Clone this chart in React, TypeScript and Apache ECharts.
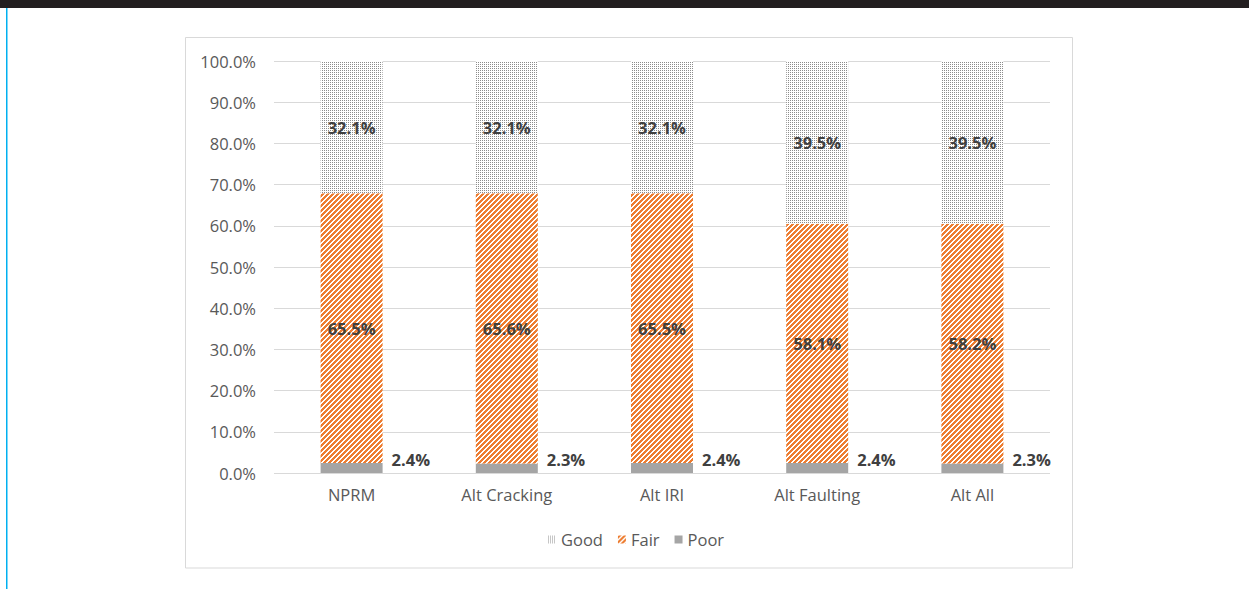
import React, { useEffect, useRef } from "react";
import * as echarts from "echarts";

const categories = ["NPRM", "Alt Cracking", "Alt IRI", "Alt Faulting", "Alt All"];
const poorValues = [2.4, 2.3, 2.4, 2.4, 2.3];
const fairValues = [65.5, 65.6, 65.5, 58.1, 58.2];
const goodValues = [32.1, 32.1, 32.1, 39.5, 39.5];
const legendNames = ["Good", "Fair", "Poor"];

const FONT = "'Open Sans', 'Noto Sans', sans-serif";

function makeGoodPattern(): string {
  const c = document.createElement("canvas");
  c.width = 2;
  c.height = 2;
  const ctx = c.getContext("2d")!;
  ctx.fillStyle = "#ffffff";
  ctx.fillRect(0, 0, 2, 2);
  ctx.fillStyle = "#8c8c8c";
  ctx.fillRect(0, 0, 1, 1);
  return c.toDataURL();
}

function makeFairPattern(): string {
  const n = 5;
  const c = document.createElement("canvas");
  c.width = n;
  c.height = n;
  const ctx = c.getContext("2d")!;
  ctx.fillStyle = "#ffffff";
  ctx.fillRect(0, 0, n, n);
  ctx.fillStyle = "#ed7d31";
  for (let y = 0; y < n; y++) {
    for (let x = 0; x < n; x++) {
      if ((x + y) % n < 3) ctx.fillRect(x, y, 1, 1);
    }
  }
  return c.toDataURL();
}

export default function App() {
  const ref = useRef<HTMLDivElement>(null);
  useEffect(() => {
    if (!ref.current) return;
    const chart = echarts.init(ref.current, undefined, { renderer: "svg" });
    const goodPat = { image: makeGoodPattern(), repeat: "repeat" } as any;
    const fairPat = { image: makeFairPattern(), repeat: "repeat" } as any;
    const insideLabel = {
      show: true,
      position: "inside",
      fontFamily: FONT,
      fontSize: 16.5,
      fontWeight: "bold",
      color: "#404040",
      formatter: (p: any) => p.value.toFixed(1) + "%",
    };
    chart.setOption({
      animation: false,
      backgroundColor: "#ffffff",
      graphic: [
        { type: "rect", z: -10, shape: { x: 0, y: 0, width: 1249, height: 8 }, style: { fill: "#231f20" } },
        { type: "rect", z: -10, shape: { x: 6, y: 8, width: 1.5, height: 581 }, style: { fill: "#00b0f0" } },
        {
          type: "rect",
          z: -10,
          shape: { x: 185.5, y: 37.5, width: 887, height: 530.5 },
          style: { fill: "#ffffff", stroke: "#d9d9d9", lineWidth: 1 },
        },
      ],
      legend: {
        data: legendNames,
        left: 543,
        top: 526,
        itemWidth: 8,
        itemHeight: 8,
        itemGap: 15,
        icon: "rect",
        textStyle: { fontFamily: FONT, fontSize: 16.5, color: "#595959" },
      },
      grid: { left: 274, right: 199, top: 61, bottom: 116, containLabel: false },
      xAxis: {
        type: "category",
        data: categories,
        axisLine: { show: false },
        axisTick: { show: false },
        axisLabel: { fontFamily: FONT, fontSize: 16.5, color: "#595959", margin: 13 },
      },
      yAxis: {
        type: "value",
        min: 0,
        max: 100,
        interval: 10,
        axisLine: { show: false },
        axisTick: { show: false },
        splitLine: { lineStyle: { color: "#d9d9d9", width: 1 } },
        axisLabel: {
          fontFamily: FONT,
          fontSize: 16.5,
          color: "#595959",
          margin: 18,
          formatter: (v: number) => v.toFixed(1) + "%",
        },
      },
      series: [
        {
          name: "Poor",
          type: "bar",
          stack: "total",
          barWidth: 62,
          data: poorValues,
          itemStyle: { color: "#a5a5a5" },
          label: {
            show: true,
            position: "right",
            distance: 9,
            offset: [0, -9],
            fontFamily: FONT,
            fontSize: 16.5,
            fontWeight: "bold",
            color: "#404040",
            formatter: (p: any) => p.value.toFixed(1) + "%",
          },
        },
        {
          name: "Fair",
          type: "bar",
          stack: "total",
          barWidth: 62,
          data: fairValues,
          itemStyle: { color: fairPat },
          label: insideLabel,
        },
        {
          name: "Good",
          type: "bar",
          stack: "total",
          barWidth: 62,
          data: goodValues,
          itemStyle: { color: goodPat },
          label: insideLabel,
        },
      ],
    });
    return () => chart.dispose();
  }, []);
  return (
    <div
      ref={ref}
      style={{ position: "fixed", left: 0, top: 0, width: 1249, height: 589 }}
    />
  );
}
